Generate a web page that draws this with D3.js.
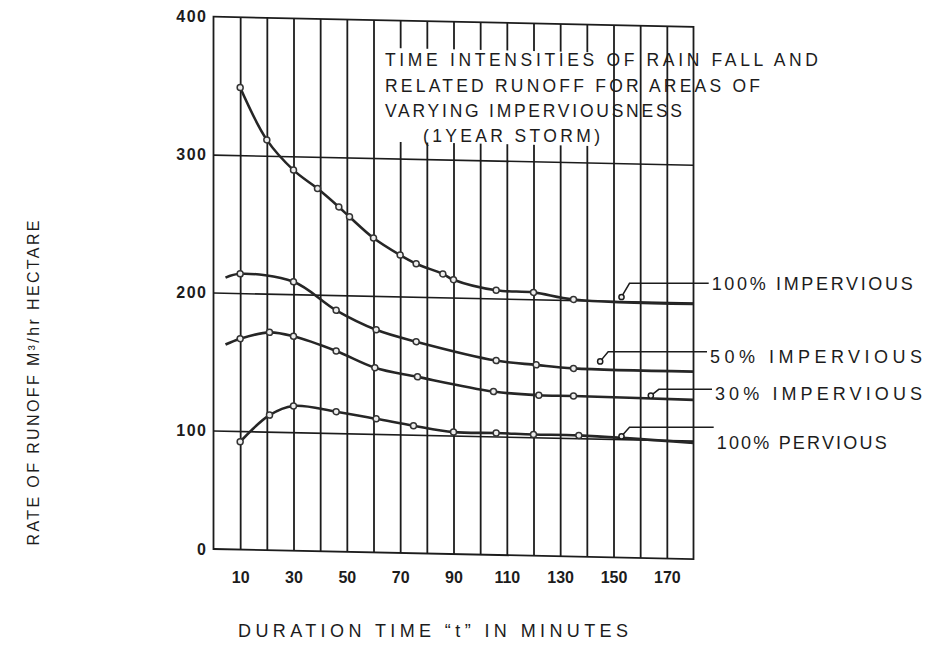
<!DOCTYPE html>
<html><head><meta charset="utf-8">
<script src="https://cdn.jsdelivr.net/npm/d3@7/dist/d3.min.js"></script>
<style>body{margin:0;background:#fff}</style>
</head><body>
<svg id="chart" width="934" height="650"></svg>
<script>
// ---------- data ----------
const xTicks = [10, 30, 50, 70, 90, 110, 130, 150, 170];
const yTicks = [0, 100, 200, 300, 400];
const seriesNames = ["100% IMPERVIOUS", "50% IMPERVIOUS", "30% IMPERVIOUS", "100% PERVIOUS"];

const imp100T = [10, 20, 30, 39, 47, 51, 60, 70, 76, 86, 90, 106, 120, 135, 180];
const imp100V = [349, 311.5, 290, 277, 264, 257, 242, 230, 224, 217, 213, 206, 205, 200.5, 199];

const imp50T = [4.5, 10, 30, 46, 61, 76, 106, 121, 135, 180];
const imp50V = [211, 214, 209, 189, 175.5, 167.5, 155, 152.5, 150.5, 150];

const imp30T = [4.5, 10, 21, 30, 46, 60.5, 76.5, 105, 122, 135, 180];
const imp30V = [162.5, 167, 172, 169.5, 159.5, 148, 142, 132.5, 130.5, 130.5, 129.5];

const perviousT = [10, 21, 30, 46, 61, 75, 90, 106, 120, 137, 180];
const perviousV = [91, 112, 119, 115.5, 111, 106.5, 102.5, 102.5, 102, 102, 98];

const leaderT = [153, 145, 164, 153];
const leaderV = [203, 156, 132, 102];

const titleLines = ["TIME INTENSITIES OF RAIN FALL AND", "RELATED RUNOFF FOR AREAS OF",
                    "VARYING IMPERVIOUSNESS", "(1YEAR STORM)"];
const xTitle = "DURATION  TIME \u201Ct\u201D IN MINUTES";
const yTitle = "RATE OF RUNOFF  M\u00B3/hr  HECTARE";

// ---------- layout ----------
const svg = d3.select("#chart");
const x = d3.scaleLinear().domain([0, 180]).range([213.5, 693.5]);
const y = d3.scaleLinear().domain([0, 100, 400]).range([549, 430.5, 16.7]);
const k = 0.021; // slight scan shear of the original graph paper
const x0 = x(0);
const shear = (px, py) => [px, py + k * (px - x0)];
const ink = "#1c1c1c";
const font = "'Liberation Sans', Arial, sans-serif";

const plot = svg.append("g")
  .attr("transform", `translate(0,${-k * x0}) skewY(${Math.atan(k) * 180 / Math.PI})`);

// vertical grid via axis
plot.append("g")
  .attr("transform", `translate(0,${y(0)})`)
  .call(d3.axisBottom(x).tickValues(d3.range(10, 180, 10)).tickSize(-(y(0) - y(400))).tickFormat(""))
  .call(g => g.select(".domain").remove())
  .call(g => g.selectAll("line").attr("stroke", ink).attr("stroke-width", 1.8));

// horizontal grid via axis
plot.append("g")
  .attr("transform", `translate(${x(0)},0)`)
  .call(d3.axisLeft(y).tickValues([100, 200, 300]).tickSize(-(x(180) - x(0))).tickFormat(""))
  .call(g => g.select(".domain").remove())
  .call(g => g.selectAll("line").attr("stroke", ink).attr("stroke-width", 1.6));

// frame
plot.append("rect")
  .attr("x", x(0)).attr("y", y(400)).attr("width", x(180) - x(0)).attr("height", y(0) - y(400))
  .attr("fill", "none").attr("stroke", ink).attr("stroke-width", 1.8);

// white box behind title (gridlines interrupted)
plot.append("rect")
  .attr("x", x(66)).attr("y", y(380)).attr("width", x(146) - x(66)).attr("height", y(312) - y(380))
  .attr("fill", "#fff");

// curves
const series = [
  {t: imp100T, v: imp100V},
  {t: imp50T, v: imp50V},
  {t: imp30T, v: imp30V},
  {t: perviousT, v: perviousV}
];
const line = d3.line().x(d => x(d[0])).y(d => y(d[1])).curve(d3.curveCatmullRom.alpha(0.5));
series.forEach(s => {
  const pts = s.t.map((t, i) => [t, s.v[i]]);
  plot.append("path").attr("d", line(pts)).attr("fill", "none")
    .attr("stroke", "#262626").attr("stroke-width", 2.6).attr("stroke-linejoin", "round");
  plot.selectAll(null).data(pts.filter(p => p[0] >= 10 && p[0] < 180)).join("circle")
    .attr("cx", d => x(d[0])).attr("cy", d => y(d[1])).attr("r", 3)
    .attr("fill", "#eee").attr("stroke", "#333").attr("stroke-width", 1.5);
});

// x tick labels
svg.append("g")
  .attr("transform", `translate(0,${y(0) + 23})`)
  .call(d3.axisBottom(x).tickValues(xTicks).tickSize(0).tickPadding(0))
  .call(g => g.select(".domain").remove())
  .call(g => g.selectAll("text").attr("font-family", font).attr("font-weight", "bold")
    .attr("font-size", 16).attr("fill", ink));

// y tick labels
svg.append("g")
  .attr("transform", `translate(${x(0)},0)`)
  .call(d3.axisLeft(y).tickValues(yTicks).tickSize(0).tickPadding(6))
  .call(g => g.select(".domain").remove())
  .call(g => g.selectAll("text").attr("font-family", font).attr("font-weight", "bold")
    .attr("font-size", 16).attr("letter-spacing", 1.5).attr("fill", ink));

// title
const titleX = [385, 385, 385, 423];
const titleBase = [66, 92, 117, 142];
const titleLen = [433, 375, 297, 177];
titleLines.forEach((s, i) => {
  svg.append("text").attr("x", titleX[i]).attr("y", titleBase[i]).text(s)
    .attr("font-family", font).attr("font-size", 17.5).attr("fill", ink)
    .attr("textLength", titleLen[i]).attr("lengthAdjust", "spacing");
});

// legend labels with leader lines
const labX = [711.7, 710, 715, 716.7];
const labBase = [290, 363, 400, 449];
const labLen = [201, 212, 207, 170];
const elbowY = [283.3, 351.7, 389.3, 427.3];
seriesNames.forEach((s, i) => {
  const [ex, ey] = shear(x(leaderT[i]), y(leaderV[i]));
  svg.append("path")
    .attr("d", `M${ex},${ey}L${ex + 8},${elbowY[i]}L${labX[i] - 3},${elbowY[i]}`)
    .attr("fill", "none").attr("stroke", ink).attr("stroke-width", 1.5);
  svg.append("circle").attr("cx", ex).attr("cy", ey).attr("r", 2.6)
    .attr("fill", "#eee").attr("stroke", ink).attr("stroke-width", 1.5);
  svg.append("text").attr("x", labX[i]).attr("y", labBase[i]).text(s)
    .attr("font-family", font).attr("font-size", 18).attr("fill", ink)
    .attr("textLength", labLen[i]).attr("lengthAdjust", "spacing");
});

// axis titles
svg.append("text").attr("x", 238).attr("y", 637).text(xTitle)
  .attr("font-family", font).attr("font-size", 18).attr("fill", ink)
  .attr("textLength", 390).attr("lengthAdjust", "spacing");
svg.append("text").attr("transform", "translate(39,383) rotate(-90)")
  .attr("text-anchor", "middle").text(yTitle)
  .attr("font-family", font).attr("font-size", 16).attr("fill", ink)
  .attr("textLength", 325).attr("lengthAdjust", "spacing");
</script>
</body></html>
